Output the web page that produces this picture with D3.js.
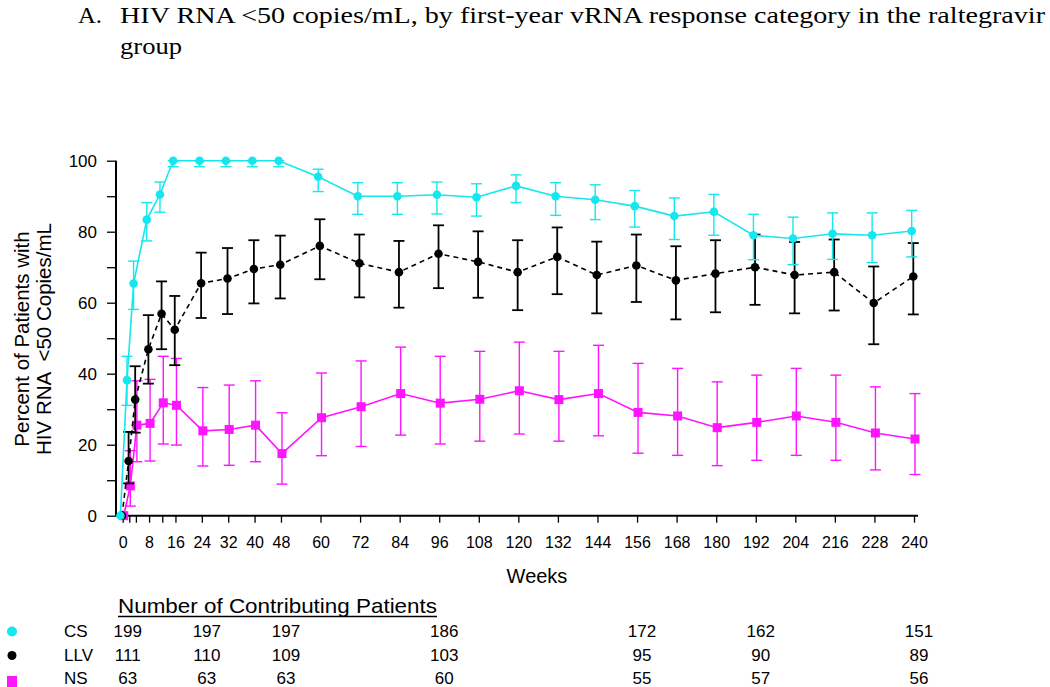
<!DOCTYPE html>
<html><head><meta charset="utf-8">
<script src="https://cdn.jsdelivr.net/npm/d3@7/dist/d3.min.js"></script>
<style>
html,body{margin:0;padding:0;background:#fff;}
svg{display:block;}
text{font-family:"Liberation Sans",Arial,sans-serif;fill:#000;}
</style></head>
<body>
<svg id="chart" width="1050" height="687"></svg>
<script>
// ---- data ----
const weeks = [0,2,4,8,12,16,24,32,40,48,60,72,84,96,108,120,132,144,156,168,180,192,204,216,228,240];
const tickLabelWeeks = [0,8,16,24,32,40,48,60,72,84,96,108,120,132,144,156,168,180,192,204,216,228,240];
const yTicks = [0,10,20,30,40,50,60,70,80,90,100];
const yLabels = [0,20,40,60,80,100];

const csValues = [0,38.2,65.4,83.4,90.5,100,100,100,100,100,95.5,90.0,90.0,90.4,89.7,92.9,90.0,89.0,87.2,84.4,85.6,79.0,78.1,79.4,79.0,80.2];
const csLower  = [0,31.1,58.1,77.4,85.5,98.3,98.3,98.3,98.3,98.3,91.3,84.9,84.9,85.0,84.4,88.2,84.6,83.4,81.3,77.8,79.0,72.1,70.7,72.2,71.3,72.9];
const csUpper  = [0,44.9,71.7,88.2,94.0,100,100,100,100,100,97.6,93.8,93.8,94.0,93.5,96.0,93.8,93.2,91.6,89.5,90.5,84.9,84.1,85.3,85.3,86.0];

const llvValues = [0,15.4,32.7,46.9,56.9,52.4,65.5,66.8,69.5,70.7,76.0,71.1,68.6,73.8,71.5,68.6,72.9,67.8,70.5,66.3,68.2,70.0,67.8,68.6,59.9,67.4];
const llvLower  = [0,9.1,23.4,37.2,46.9,42.4,55.7,56.8,59.8,61.2,66.6,61.5,58.6,64.1,61.4,57.9,62.4,57.0,60.2,55.3,57.3,59.4,57.0,57.8,48.3,56.7];
const llvUpper  = [0,23.6,42.1,56.5,66.0,61.9,74.1,75.4,77.6,78.9,83.5,79.2,77.4,81.8,80.1,77.6,81.2,77.2,79.2,75.9,77.6,79.2,77.1,77.8,70.2,76.8];

const nsValues = [0,8.4,25.5,26.0,31.8,31.1,23.9,24.3,25.5,17.5,27.6,30.7,34.4,31.7,32.8,35.2,32.7,34.4,29.1,28.1,24.8,26.3,28.1,26.3,23.3,21.6];
const nsLower  = [0,2.7,15.2,15.4,20.2,19.9,14.0,14.2,15.2,8.9,16.9,19.5,22.7,20.2,21.0,23.0,21.0,22.5,17.6,17.0,14.1,15.6,17.0,15.6,12.9,11.6];
const nsUpper  = [0,18.3,38.0,38.4,44.9,44.3,36.1,36.8,38.0,29.0,40.2,43.6,47.5,44.9,46.3,48.9,46.3,48.0,42.9,41.5,37.7,39.6,41.5,39.6,36.3,34.4];

const tableWeeks = [0,24,48,96,156,192,240];
const tableGroups = ["CS","LLV","NS"];
const csCounts  = [199,197,197,186,172,162,151];
const llvCounts = [111,110,109,103,95,90,89];
const nsCounts  = [63,63,63,60,55,57,56];

const titleLabel = "A.";
const titleLine1 = "HIV RNA <50 copies/mL, by first-year vRNA response category in the raltegravir";
const titleLine2 = "group";

// ---- setup ----
const svg = d3.select("#chart");
const x = d3.scaleLinear().domain([0,240]).range([122.7,914]);
const y = d3.scaleLinear().domain([0,100]).range([515.7,160.7]);

const CYAN = "#14e8ee", MAG = "#ff14ff", BLK = "#000";
const SERIF = "'Liberation Serif','Times New Roman',serif";

// title
svg.append("text").attr("x",78).attr("y",23).style("font-family",SERIF).style("font-size","23.5px")
  .attr("textLength",24).attr("lengthAdjust","spacingAndGlyphs").text(titleLabel);
svg.append("text").attr("x",120).attr("y",23).style("font-family",SERIF).style("font-size","23.5px")
  .attr("textLength",925).attr("lengthAdjust","spacingAndGlyphs").text(titleLine1);
svg.append("text").attr("x",120).attr("y",54).style("font-family",SERIF).style("font-size","23.5px")
  .attr("textLength",62).attr("lengthAdjust","spacingAndGlyphs").text(titleLine2);

// axes
const xAxis = d3.axisBottom(x).tickValues(weeks).tickSize(7).tickPadding(14)
  .tickFormat(d => tickLabelWeeks.includes(d) ? d : "");
const gx = svg.append("g").attr("transform","translate(0,515.7)").call(xAxis);
gx.select(".domain").remove();
gx.selectAll("line").attr("stroke","#000").attr("stroke-width",1.3);
gx.selectAll("text").style("font-size","16px").style("font-family","'Liberation Sans',Arial,sans-serif");
svg.append("line").attr("x1",116).attr("x2",918).attr("y1",515.7).attr("y2",515.7).attr("stroke","#000").attr("stroke-width",2);

const yAxis = d3.axisLeft(y).tickValues(yTicks).tickSize(9).tickPadding(10)
  .tickFormat(d => yLabels.includes(d) ? d : "");
const gy = svg.append("g").attr("transform","translate(116,0)").call(yAxis);
gy.select(".domain").remove();
gy.selectAll("line").attr("stroke","#000").attr("stroke-width",1.3);
gy.selectAll("text").style("font-size","17px").style("font-family","'Liberation Sans',Arial,sans-serif");
svg.append("line").attr("x1",116).attr("x2",116).attr("y1",y(100)).attr("y2",515.7).attr("stroke","#000").attr("stroke-width",2);

// axis titles
svg.append("text").attr("x",537).attr("y",583).attr("text-anchor","middle").style("font-size","20px").text("Weeks");
const yt = svg.append("g").attr("transform","translate(0,339) rotate(-90)");
yt.append("text").attr("x",0).attr("y",29).attr("text-anchor","middle").style("font-size","20.5px").text("Percent of Patients with");
yt.append("text").attr("x",0).attr("y",51).attr("text-anchor","middle").style("font-size","20.5px").style("white-space","pre").text("HIV RNA  <50 Copies/mL");

// series
const series = [
  {name:"CS",  v:csValues,  lo:csLower,  hi:csUpper,  color:CYAN, dx:-2.3, dash:null, shape:"circle", ew:1.4},
  {name:"LLV", v:llvValues, lo:llvLower, hi:llvUpper, color:BLK,  dx:-0.7, dash:"5,4", shape:"circle", ew:1.8},
  {name:"NS",  v:nsValues,  lo:nsLower,  hi:nsUpper,  color:MAG,  dx:1.0,  dash:null, shape:"square", ew:1.4}
];
const capW = 11;
[series[2], series[1], series[0]].forEach(s => {
  const g = svg.append("g");
  const pts = weeks.map((w,i)=>({w, v:s.v[i], lo:s.lo[i], hi:s.hi[i]}));
  const eb = g.selectAll(".eb").data(pts.filter(p=>p.hi>p.lo)).enter().append("g");
  eb.append("line").attr("x1",p=>x(p.w)+s.dx).attr("x2",p=>x(p.w)+s.dx)
    .attr("y1",p=>y(p.lo)).attr("y2",p=>y(p.hi)).attr("stroke",s.color).attr("stroke-width",s.ew);
  eb.append("line").attr("x1",p=>x(p.w)+s.dx-capW/2).attr("x2",p=>x(p.w)+s.dx+capW/2)
    .attr("y1",p=>y(p.lo)).attr("y2",p=>y(p.lo)).attr("stroke",s.color).attr("stroke-width",s.ew);
  eb.append("line").attr("x1",p=>x(p.w)+s.dx-capW/2).attr("x2",p=>x(p.w)+s.dx+capW/2)
    .attr("y1",p=>y(p.hi)).attr("y2",p=>y(p.hi)).attr("stroke",s.color).attr("stroke-width",s.ew);
  const line = d3.line().x(p=>x(p.w)+s.dx).y(p=>y(p.v));
  g.append("path").datum(pts).attr("d",line).attr("fill","none").attr("stroke",s.color)
    .attr("stroke-width",1.6).attr("stroke-dasharray",s.dash);
  if (s.shape==="circle") {
    g.selectAll(".m").data(pts).enter().append("circle").attr("cx",p=>x(p.w)+s.dx).attr("cy",p=>y(p.v))
      .attr("r",4.3).attr("fill",s.color);
  } else {
    g.selectAll(".m").data(pts).enter().append("rect").attr("x",p=>x(p.w)+s.dx-4.5).attr("y",p=>y(p.v)-4.5)
      .attr("width",9).attr("height",9).attr("fill",s.color);
  }
});

// table
svg.append("text").attr("x",118).attr("y",613).style("font-size","21px")
  .attr("textLength",319).attr("lengthAdjust","spacingAndGlyphs").text("Number of Contributing Patients");
svg.append("line").attr("x1",118).attr("x2",437).attr("y1",616.5).attr("y2",616.5).attr("stroke","#000").attr("stroke-width",1.3);
const counts = [csCounts, llvCounts, nsCounts];
const rowY = [636.5, 660.5, 684];
const rowColor = [CYAN, BLK, MAG];
tableGroups.forEach((gname,i)=>{
  if (i<2) svg.append("circle").attr("cx",12).attr("cy",rowY[i]-5).attr("r", i===0?5:4.5).attr("fill",rowColor[i]);
  else svg.append("rect").attr("x",7).attr("y",rowY[i]-8).attr("width",10).attr("height",11).attr("fill",rowColor[i]);
  svg.append("text").attr("x",64).attr("y",rowY[i]).style("font-size","17px").text(gname);
  svg.selectAll(null).data(counts[i]).enter().append("text")
    .attr("x",(d,j)=>x(tableWeeks[j])+5).attr("y",rowY[i]).attr("text-anchor","middle")
    .style("font-size","17px").text(d=>d);
});
</script>
</body></html>
